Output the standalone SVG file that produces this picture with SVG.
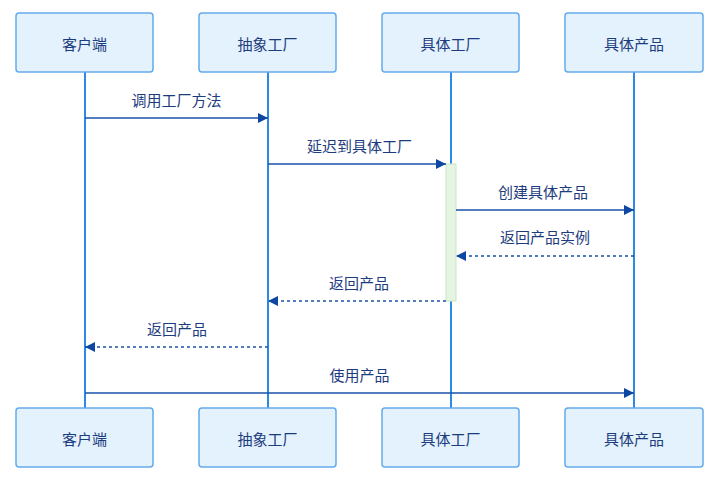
<svg xmlns="http://www.w3.org/2000/svg" width="720" height="484" viewBox="0 0 720 484">
<style>
.box{fill:#e3f2fd;stroke:#64aaeb;stroke-width:1.5}
.life{stroke:#2a8ae6;stroke-width:2}
.nt{font-family:"Noto Sans CJK SC","Noto Sans",sans-serif;font-size:15px;fill:#1d3c7e;text-anchor:middle;dominant-baseline:central}
.lt{font-family:"Noto Sans CJK SC","Noto Sans",sans-serif;font-size:15px;fill:#1d3c7e;text-anchor:middle}
.msg{stroke:#1a52a8;stroke-width:1.6;fill:none}
.dash{stroke-dasharray:3,3}
</style>
<defs>
<marker id="ah" viewBox="0 0 10 10" refX="10" refY="5" markerWidth="10" markerHeight="10" markerUnits="userSpaceOnUse" orient="auto">
<path d="M0,0 L10,5 L0,10 z" fill="#0d47a1"/>
</marker>
</defs>
<g id="lifelines">
<line class="life" x1="85" y1="72" x2="85" y2="408"/>
<line class="life" x1="268" y1="72" x2="268" y2="408"/>
<line class="life" x1="451" y1="72" x2="451" y2="408"/>
<line class="life" x1="634" y1="72" x2="634" y2="408"/>
</g>
<g id="activation">
<rect x="446" y="164" width="10" height="137" fill="#e5f5e1" stroke="#c9e6c3" stroke-width="1"/>
</g>
<g id="n1"><rect class="box" x="16" y="13" width="137" height="59" rx="3"/><text class="nt" x="84.5" y="43">客户端</text></g>
<g id="n2"><rect class="box" x="199" y="13" width="137" height="59" rx="3"/><text class="nt" x="267.5" y="43">抽象工厂</text></g>
<g id="n3"><rect class="box" x="382" y="13" width="137" height="59" rx="3"/><text class="nt" x="450.5" y="43">具体工厂</text></g>
<g id="n4"><rect class="box" x="565" y="13" width="138" height="59" rx="3"/><text class="nt" x="634" y="43">具体产品</text></g>
<g id="n1b"><rect class="box" x="16" y="408" width="137" height="59" rx="3"/><text class="nt" x="84.5" y="438">客户端</text></g>
<g id="n2b"><rect class="box" x="199" y="408" width="137" height="59" rx="3"/><text class="nt" x="267.5" y="438">抽象工厂</text></g>
<g id="n3b"><rect class="box" x="382" y="408" width="137" height="59" rx="3"/><text class="nt" x="450.5" y="438">具体工厂</text></g>
<g id="n4b"><rect class="box" x="565" y="408" width="138" height="59" rx="3"/><text class="nt" x="634" y="438">具体产品</text></g>
<g id="connectors">
<line class="msg" x1="85" y1="118" x2="268" y2="118" marker-end="url(#ah)"/>
<text class="lt" x="176.5" y="106">调用工厂方法</text>
<line class="msg" x1="268" y1="164" x2="446" y2="164" marker-end="url(#ah)"/>
<text class="lt" x="359.5" y="152">延迟到具体工厂</text>
<line class="msg" x1="456" y1="210" x2="634" y2="210" marker-end="url(#ah)"/>
<text class="lt" x="543" y="198">创建具体产品</text>
<line class="msg dash" x1="634" y1="256" x2="456" y2="256" marker-end="url(#ah)"/>
<text class="lt" x="545" y="243">返回产品实例</text>
<line class="msg dash" x1="446" y1="301" x2="268" y2="301" marker-end="url(#ah)"/>
<text class="lt" x="359" y="289">返回产品</text>
<line class="msg dash" x1="268" y1="347" x2="85" y2="347" marker-end="url(#ah)"/>
<text class="lt" x="177" y="335">返回产品</text>
<line class="msg" x1="85" y1="393" x2="634" y2="393" marker-end="url(#ah)"/>
<text class="lt" x="359.5" y="381">使用产品</text>
</g>
</svg>
